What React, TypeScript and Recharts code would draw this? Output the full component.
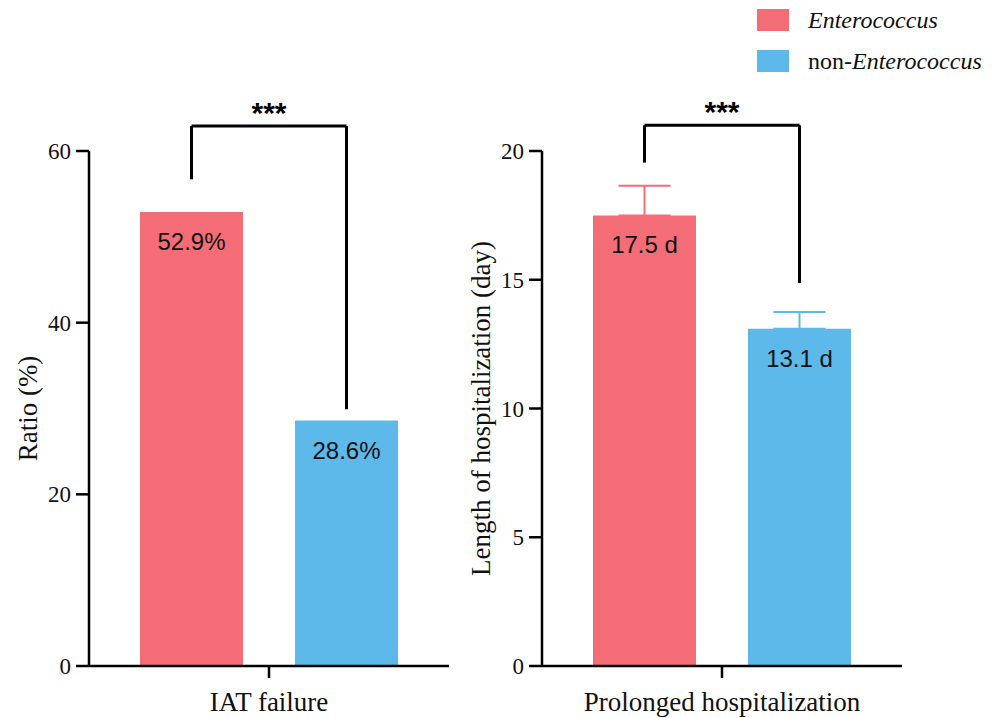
import React from "react";
import {
  BarChart,
  Bar,
  XAxis,
  YAxis,
  ErrorBar,
  LabelList,
  ReferenceLine,
} from "recharts";

// groups (legend order)
const seriesNames = ["Enterococcus", "non-Enterococcus"];
const seriesColors = ["#F46D76", "#5CB9EA"];

// left panel: IAT failure ratio (%)
const ratioCategory = "IAT failure";
const ratioValues = [52.9, 28.6];
const ratioLabels = ["52.9%", "28.6%"];
const ratioTicks = [0, 20, 40, 60];
// bracket: left leg end, top, right leg end
const ratioBracket = [56.7, 62.9, 29.9];

// right panel: length of hospitalization (day)
const stayCategory = "Prolonged hospitalization";
const stayValues = [17.5, 13.1];
const stayErrors = [1.15, 0.65];
const stayLabels = ["17.5 d", "13.1 d"];
const stayTicks = [0, 5, 10, 15, 20];
const stayBracket = [19.55, 21.0, 14.87];

const serif = "'Liberation Serif', 'DejaVu Serif', serif";
const sans = "'Liberation Sans', Arial, sans-serif";
const axisStroke = { stroke: "#000", strokeWidth: 2.5 };

interface PanelProps {
  left: number;
  category: string;
  values: number[];
  labels: string[];
  errors?: number[];
  ticks: number[];
  bracket: number[];
  yLabel: string;
}

function Panel({ left, category, values, labels, errors, ticks, bracket, yLabel }: PanelProps) {
  const rows = seriesNames.map((name, i) => {
    const row: any = { grp: name, group: category };
    row[`v${i}`] = values[i];
    row[`l${i}`] = labels[i];
    if (errors) row[`e${i}`] = [0, errors[i]];
    return row;
  });
  const [a, b] = seriesNames;
  const line = { stroke: "#000", strokeWidth: 3, ifOverflow: "visible" as const, xAxisId: "bars" };

  return (
    <div style={{ position: "absolute", left, top: 0 }}>
      <BarChart
        width={460}
        height={718}
        data={rows}
        margin={{ top: 151, right: 13, bottom: 0, left: 0 }}
      >
        <XAxis xAxisId="bars" dataKey="grp" hide height={0} padding={{ left: 25, right: 25 }} />
        <XAxis
          xAxisId="grp"
          dataKey="group"
          allowDuplicatedCategory={false}
          height={52}
          tickSize={12}
          tickMargin={14}
          axisLine={axisStroke}
          tickLine={axisStroke}
          tick={{ fontSize: 27, fill: "#111", fontFamily: serif }}
        />
        <YAxis
          width={87}
          domain={[0, ticks[ticks.length - 1]]}
          ticks={ticks}
          tickSize={13}
          tickMargin={5}
          axisLine={axisStroke}
          tickLine={axisStroke}
          tick={{ fontSize: 23, fill: "#111", fontFamily: serif }}
          label={{
            value: yLabel,
            angle: -90,
            position: "insideLeft",
            offset: 25,
            fontSize: 27,
            fill: "#111",
            fontFamily: serif,
            style: { textAnchor: "middle", fontSize: 27, fontFamily: serif },
          }}
        />
        {seriesNames.map((name, i) => (
          <Bar
            key={name}
            xAxisId="bars"
            dataKey={`v${i}`}
            stackId="s"
            fill={seriesColors[i]}
            barSize={103}
            isAnimationActive={false}
          >
            <LabelList
              dataKey={`l${i}`}
              position="insideTop"
              offset={21}
              style={{ fontSize: 24, fill: "#111", fontFamily: sans }}
            />
            {errors && (
              <ErrorBar
                dataKey={`e${i}`}
                width={26}
                stroke={seriesColors[i]}
                strokeWidth={2}
                direction="y"
                isAnimationActive={false}
              />
            )}
          </Bar>
        ))}
        <ReferenceLine {...line} segment={[{ x: a, y: bracket[0] }, { x: a, y: bracket[1] }]} />
        <ReferenceLine
          {...line}
          segment={[{ x: a, y: bracket[1] }, { x: b, y: bracket[1] }]}
          label={{
            value: "***",
            position: "top",
            offset: 3,
            style: { fontSize: 30, fontWeight: "bold", fill: "#000", fontFamily: sans },
          }}
        />
        <ReferenceLine {...line} segment={[{ x: b, y: bracket[1] }, { x: b, y: bracket[2] }]} />
      </BarChart>
    </div>
  );
}

function LegendBox() {
  return (
    <div style={{ position: "absolute", left: 757, top: 9, fontFamily: serif, fontSize: 24, color: "#111" }}>
      {seriesNames.map((name, i) => (
        <div key={name} style={{ display: "flex", alignItems: "center", height: 22, marginBottom: 19 }}>
          <div style={{ width: 32, height: 22, background: seriesColors[i], marginRight: 19 }} />
          <span style={{ whiteSpace: "nowrap" }}>
            {name.startsWith("non-") ? (
              <>
                non-<i>{name.slice(4)}</i>
              </>
            ) : (
              <i>{name}</i>
            )}
          </span>
        </div>
      ))}
    </div>
  );
}

export default function App() {
  return (
    <div style={{ position: "absolute", left: 0, top: 0, width: 1003, height: 718, background: "#fff" }}>
      <Panel
        left={2}
        category={ratioCategory}
        values={ratioValues}
        labels={ratioLabels}
        ticks={ratioTicks}
        bracket={ratioBracket}
        yLabel="Ratio (%)"
      />
      <Panel
        left={455}
        category={stayCategory}
        values={stayValues}
        labels={stayLabels}
        errors={stayErrors}
        ticks={stayTicks}
        bracket={stayBracket}
        yLabel="Length of hospitalization (day)"
      />
      <LegendBox />
    </div>
  );
}
